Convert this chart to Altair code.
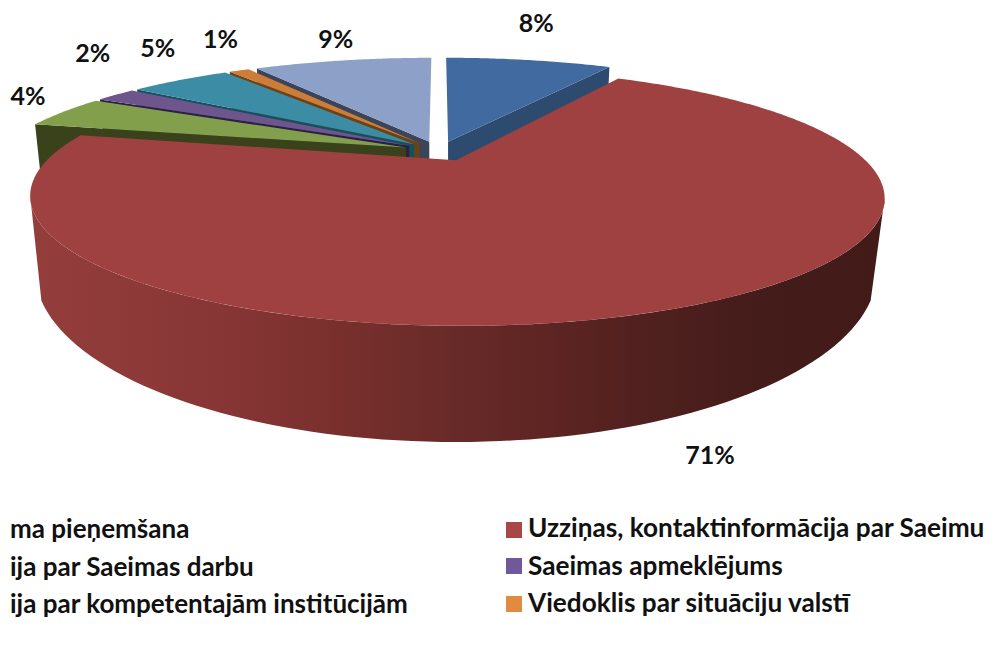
import math
import altair as alt

# ---- values
shares = [8.4, 70.2, 4.4, 2, 5, 1, 9]
share_labels = ["8%", "71%", "4%", "2%", "5%", "1%", "9%"]
top_colors = ["#406AA0", "#A04141", "#82A04B", "#6E558C", "#3C8CA5", "#CD7D37", "#8CA0C8"]
face_colors = ["#2D4B6E", "#4A1F1C", "#3A421C", "#2D1E46", "#14505F", "#6E4114", "#3C445A"]
label_nudge_x = [6.5, 22, -31, -19, -19, -16, -6]
label_nudge_y = [-36, 149, -15, -41, -31, -30, -20]
legend_left = ["ma pieņemšana", "ija par Saeimas darbu", "ija par kompetentajām institūcijām"]
legend_right = ["Uzziņas, kontaktinformācija par Saeimu", "Saeimas apmeklējums", "Viedoklis par situāciju valstī"]
legend_colors = ["#A94646", "#71589A", "#E08B3F"]

# ---- layout
W, H = 980, 637
OX, OY = 8, 8  # page margin
CX, CY, F, G, P, EXPL = 439, 151, 410, 112.2, 0.281, 0.087
RED_F, RED_G, RED_DX = 400, 112.8, 3
DEPTH = 75


def project(u, v, f=F, g=G, dx=0):
    w = 1 + P * v
    return (CX + dx + f * u / w, CY - g * v / w)


angles = []
a = 0.0
total = sum(shares)
for s in shares:
    angles.append((a, a + s / total * 2 * math.pi))
    a += s / total * 2 * math.pi


def slice_ring(a0, a1, f=F, g=G, dx=0):
    mid = (a0 + a1) / 2
    ou, ov = EXPL * math.sin(mid), EXPL * math.cos(mid)
    n = max(3, int((a1 - a0) / 0.01))
    pts = [project(ou, ov, f, g, dx)]
    for i in range(n + 1):
        t = a0 + (a1 - a0) * i / n
        pts.append(project(ou + math.sin(t), ov + math.cos(t), f, g, dx))
    return pts


def feature(pts, color):
    ring = [[x, y] for x, y in pts]
    ring.append(ring[0])
    return {"type": "Feature", "properties": {"color": color},
            "geometry": {"type": "Polygon", "coordinates": [ring]}}


def drop(p):
    return (CX + (p[0] - CX) * 0.98, p[1] + DEPTH)


frame = [(OX, OY), (OX + W, OY), (OX + W, OY + H), (OX, OY + H)]

back = [feature(frame, "transparent")]
for idx in [6, 5, 4, 3, 2, 0]:
    ring = slice_ring(*angles[idx])
    apex = ring[0]
    edge = ring[-1] if idx == 0 else ring[1]
    back.append(feature([apex, edge, drop(edge), drop(apex)], face_colors[idx]))
    back.append(feature(ring, top_colors[idx]))

red_ring = slice_ring(*angles[1], RED_F, RED_G, RED_DX)

# visible outer wall of the large slice: top ellipse rim to bottom ellipse rim
mid_red = sum(angles[1]) / 2
ou, ov = EXPL * math.sin(mid_red), EXPL * math.cos(mid_red)
rim = [project(ou + math.sin(math.radians(t)), ov + math.cos(math.radians(t)), RED_F, RED_G, RED_DX)
       for t in range(60, 301, 1)]
i_right = max(range(len(rim)), key=lambda i: rim[i][0])
i_left = min(range(len(rim)), key=lambda i: rim[i][0])
top_arc = rim[i_right:i_left + 1]
BX, BY, BRX, BRY = 456, 271, 421, 171
bottom_arc = [(BX + BRX * math.cos(math.radians(t)), BY + BRY * math.sin(math.radians(t))) for t in range(170, 9, -2)]
wall = top_arc + bottom_arc


def geo(feats):
    return alt.Chart(alt.Data(values=feats))


back_layer = geo(back).mark_geoshape(strokeWidth=0).encode(
    fill=alt.Fill("properties.color:N", scale=None)).project(type="identity")
wall_fill = alt.Gradient(
    gradient="linear", x1=0, x2=1, y1=0, y2=0,
    stops=[alt.GradientStop(offset=0, color="#943E3C"),
           alt.GradientStop(offset=0.22, color="#873635"),
           alt.GradientStop(offset=0.35, color="#7A302D"),
           alt.GradientStop(offset=0.48, color="#6A2B29"),
           alt.GradientStop(offset=0.6, color="#5E2523"),
           alt.GradientStop(offset=0.73, color="#4F201E"),
           alt.GradientStop(offset=0.85, color="#441C1A"),
           alt.GradientStop(offset=1, color="#421B19")],
)
wall_mark = geo([feature(wall, "x")]).mark_geoshape(fill=wall_fill, strokeWidth=0).project(type="identity")
red_mark = geo([feature(red_ring, top_colors[1])]).mark_geoshape(fill=top_colors[1], strokeWidth=0).project(type="identity")

# ---- text and legend through shared pixel scales
xs = alt.Scale(domain=[OX, OX + W], range=[0, W], nice=False, zero=False)
ys = alt.Scale(domain=[OY, OY + H], range=[0, H], nice=False, zero=False)


def X(f):
    return alt.X(f, type="quantitative", scale=xs, axis=None)


def Y(f):
    return alt.Y(f, type="quantitative", scale=ys, axis=None)


label_rows = []
for i, lab in enumerate(share_labels):
    mid = sum(angles[i]) / 2
    px, py = project((1 + EXPL) * math.sin(mid), (1 + EXPL) * math.cos(mid), 415, G)
    label_rows.append({"t": lab, "x": px + label_nudge_x[i], "y": py + label_nudge_y[i]})

FONT = "Lato"
labels = alt.Chart(alt.Data(values=label_rows)).mark_text(
    font=FONT, fontSize=25, fontWeight="bold", color="#111111", align="center", baseline="middle"
).encode(x=X("x"), y=Y("y"), text="t:N")

row_base = [538, 576, 613]
left_rows = [{"t": t, "x": 10, "y": y} for t, y in zip(legend_left, row_base)]
right_rows = [{"t": t, "x": 528, "y": y - 1} for t, y in zip(legend_right, row_base)]
left_text = alt.Chart(alt.Data(values=left_rows)).mark_text(
    font=FONT, fontSize=26, fontWeight="bold", color="#111111", align="left", baseline="alphabetic"
).encode(x=X("x"), y=Y("y"), text="t:N")
right_text = alt.Chart(alt.Data(values=right_rows)).mark_text(
    font=FONT, fontSize=26.2, fontWeight="bold", color="#111111", align="left", baseline="alphabetic"
).encode(x=X("x"), y=Y("y"), text="t:N")
sq_rows = [{"x": 514, "y": y, "c": c} for y, c in zip([530, 566, 604], legend_colors)]
squares = alt.Chart(alt.Data(values=sq_rows)).mark_square(size=256, opacity=1).encode(
    x=X("x"), y=Y("y"), fill=alt.Fill("c:N", scale=None))

chart = alt.layer(back_layer, wall_mark, red_mark, labels, left_text, right_text, squares).properties(
    width=W, height=H, padding=0, autosize=alt.AutoSizeParams(type="none")
).configure_view(stroke=None, strokeWidth=0)

chart.save("out.html", embed_options={"renderer": "svg", "actions": False})
